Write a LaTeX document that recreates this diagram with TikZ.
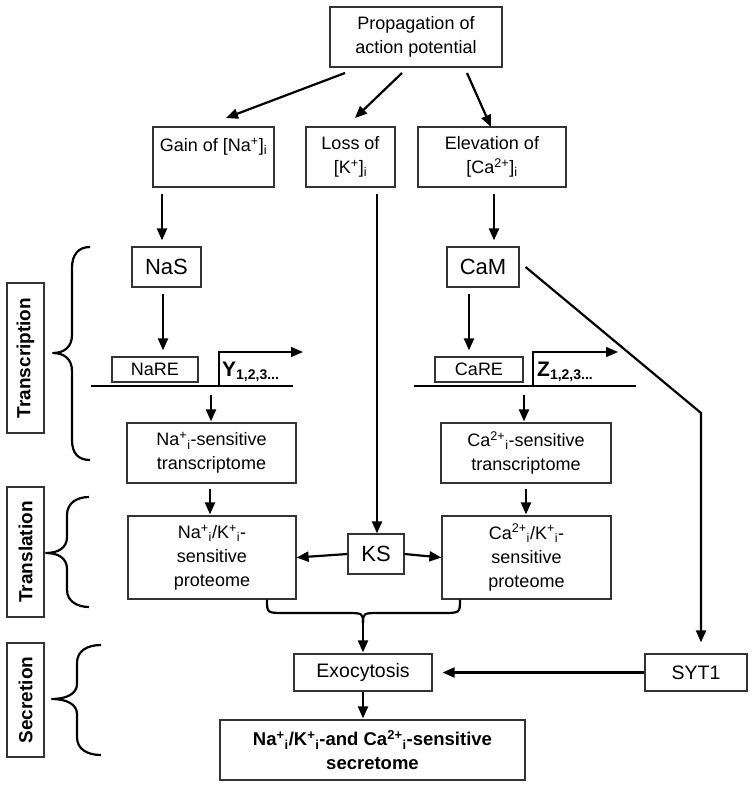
\documentclass[tikz,border=0pt]{standalone}
\usepackage{fontspec}
\setmainfont{Liberation Sans}
\usetikzlibrary{arrows.meta}
\tikzset{
  box/.style={draw=black!80, line width=1.2pt, inner sep=0pt, align=center, font=\fontsize{18}{24}\selectfont},
  bigbox/.style={box, font=\fontsize{22}{26}\selectfont},
  midbox/.style={box, font=\fontsize{19.5}{24}\selectfont},
  lblbox/.style={draw=black!80, line width=1.2pt, inner sep=0pt, rotate=90, font=\bfseries\fontsize{19}{22}\selectfont},
  arr/.style={line width=2.2pt, -{Triangle[length=12pt,width=10pt]}, shorten <=6pt, shorten >=6pt},
  brc/.style={line width=2.2pt, line join=round},
  gene/.style={line width=2.4pt},
}
\newcommand{\sps}[1]{\textsuperscript{#1}}
\newcommand{\sbs}[1]{\textsubscript{#1}}
\begin{document}
\begin{tikzpicture}[x=1pt,y=-1pt]
\useasboundingbox (0,0) rectangle (754,788);
% nodes
\node[box, minimum width=172, minimum height=60] (prop) at (416,37) {Propagation of\\action potential};
\node[box, minimum width=121, minimum height=60] (gain) at (213.5,157) {Gain of [Na\sps{+}]\sbs{i}\\\mbox{}};
\node[box, minimum width=89, minimum height=60] (loss) at (350.5,157) {Loss of\\{}[K\sps{+}]\sbs{i}};
\node[box, minimum width=148, minimum height=60] (elev) at (492,157) {Elevation of\\{}[Ca\sps{2+}]\sbs{i}};
\node[bigbox, minimum width=69, minimum height=40] (nas) at (166.5,267) {NaS};
\node[bigbox, minimum width=72, minimum height=40] (cam) at (483,267) {CaM};
\node[box, minimum width=86, minimum height=25] (nare) at (155,369.5) {NaRE};
\node[box, minimum width=88, minimum height=25] (care) at (479,369.5) {CaRE};
\node[box, minimum width=169, minimum height=60] (natr) at (211.5,453) {Na\sps{+}\sbs{i}-sensitive\\transcriptome};
\node[box, minimum width=170, minimum height=60] (catr) at (526,453) {Ca\sps{2+}\sbs{i}-sensitive\\transcriptome};
\node[box, minimum width=168, minimum height=83] (napr) at (212,557.5) {Na\sps{+}\sbs{i}/K\sps{+}\sbs{i}-\\sensitive\\proteome};
\node[box, minimum width=169, minimum height=83] (capr) at (526.5,557.5) {Ca\sps{2+}\sbs{i}/K\sps{+}\sbs{i}-\\sensitive\\proteome};
\node[bigbox, minimum width=56, minimum height=40] (ks) at (376,554) {KS};
\node[midbox, minimum width=138, minimum height=37] (exo) at (363,672.5) {Exocytosis};
\node[midbox, minimum width=102, minimum height=37] (syt) at (696,672.5) {SYT1};
\node[box, minimum width=305, minimum height=60, font=\bfseries\fontsize{18.5}{24}\selectfont] (sec) at (372.5,750) {Na\sps{+}\sbs{i}/K\sps{+}\sbs{i}-and Ca\sps{2+}\sbs{i}-sensitive\\secretome};
% side labels
\node[lblbox, minimum width=150, minimum height=37] (ltr) at (25.5,358) {Transcription};
\node[lblbox, minimum width=130, minimum height=37] (ltl) at (25.5,552) {Translation};
\node[lblbox, minimum width=114, minimum height=37] (lse) at (25.5,700) {Secretion};
% top arrows
\coordinate (p1) at (345,73);
\coordinate (p2) at (402,73);
\coordinate (p3) at (467,73);
\coordinate (g1) at (226,118);
\coordinate (l1) at (355,118);
\coordinate (e1) at (491,127);
\draw[arr, shorten <=0pt, shorten >=0pt] (p1) -- (g1);
\draw[arr, shorten <=0pt, shorten >=0pt] (p2) -- (l1);
\draw[arr, shorten <=0pt, shorten >=0pt] (p3) -- (e1);
% sodium branch
\draw[arr] (gain.south -| 162,0) -- (nas.north -| 162,0);
\draw[arr] (nas.south -| 163,0) -- (nare.north -| 163,0);
\coordinate (nl1) at (91,386);
\coordinate (nl2) at (293,386);
\draw[gene] (nl1) -- (nl2);
\coordinate (ny0) at (219,386);
\coordinate (ny1) at (219,352);
\coordinate (ny2) at (303,352);
\draw[line width=1.6pt, -{Triangle[length=12pt,width=10pt]}] (ny0) -- (ny1) -- (ny2);
\node[anchor=west, inner sep=0pt, font=\bfseries\fontsize{21}{22}\selectfont] (ytxt) at (222,372) {Y\textsubscript{\fontsize{14}{14}\selectfont 1,2,3...}};
\draw[arr, shorten <=9pt, shorten >=1pt] (nl2 -| 211,0) -- (natr.north -| 211,0);
\draw[arr, shorten <=5pt, shorten >=1pt] (natr.south -| 210,0) -- (napr.north -| 210,0);
% potassium branch
\draw[arr, shorten >=0pt] (loss.south -| 377,0) -- (ks.north -| 377,0);
\draw[arr, shorten <=0pt, shorten >=0pt] (ks.west) -- (napr.east);
\draw[arr, shorten <=0pt, shorten >=0pt] (ks.east) -- (capr.west);
% calcium branch
\draw[arr] (elev.south -| 494,0) -- (cam.north -| 494,0);
\draw[arr] (cam.south -| 469,0) -- (care.north -| 469,0);
\coordinate (cl1) at (414,386);
\coordinate (cl2) at (636,386);
\draw[gene] (cl1) -- (cl2);
\coordinate (cz0) at (533,386);
\coordinate (cz1) at (533,352);
\coordinate (cz2) at (618,352);
\draw[line width=1.6pt, -{Triangle[length=12pt,width=10pt]}] (cz0) -- (cz1) -- (cz2);
\node[anchor=west, inner sep=0pt, font=\bfseries\fontsize{21}{22}\selectfont] (ztxt) at (537,372) {Z\textsubscript{\fontsize{14}{14}\selectfont 1,2,3...}};
\draw[arr, shorten <=9pt, shorten >=1pt] (cl2 -| 524,0) -- (catr.north -| 524,0);
\draw[arr, shorten <=5pt, shorten >=1pt] (catr.south -| 526,0) -- (capr.north -| 526,0);
% CaM to SYT1
\coordinate (bend) at (701,413);
\draw[arr, shorten <=0pt, shorten >=11pt] ([xshift=6pt]cam.east) -- (bend) -- (bend |- syt.north);
% merge brace
\coordinate (mtip) at (363,623);
\draw[brc] (napr.south -| 267,0) .. controls (267,613) .. (285,613) -- (345,613) .. controls (363,613) .. (mtip);
\draw[brc] (capr.south -| 460,0) .. controls (460,613) .. (442,613) -- (381,613) .. controls (363,613) .. (mtip);
\draw[arr, shorten <=0pt, shorten >=1pt] (mtip) -- (exo.north);
% bottom
\draw[arr, shorten <=0pt, shorten >=10pt] (syt.west) -- (exo.east);
\draw[arr, shorten <=0pt, shorten >=1pt] (exo.south) -- (exo.south |- sec.north);
% side braces
\draw[brc] (90,247) .. controls (78,247) and (72,255) .. (72,268) -- (72,335) .. controls (72,347) and (64,353) .. (53,353) .. controls (64,353) and (72,359) .. (72,371) -- (72,440) .. controls (72,453) and (78,460) .. (90,460);
\draw[brc] (89,497) .. controls (77,497) and (67,503) .. (67,515) -- (67,537) .. controls (67,548) and (58,553) .. (46,553) .. controls (58,553) and (67,558) .. (67,569) -- (67,590) .. controls (67,601) and (77,607) .. (89,607);
\draw[brc] (101,645) .. controls (87,645) and (77,651) .. (77,663) -- (77,684) .. controls (77,694) and (66,699) .. (52,699) .. controls (66,699) and (77,704) .. (77,714) -- (77,737) .. controls (77,749) and (87,755) .. (101,755);
\end{tikzpicture}
\end{document}
